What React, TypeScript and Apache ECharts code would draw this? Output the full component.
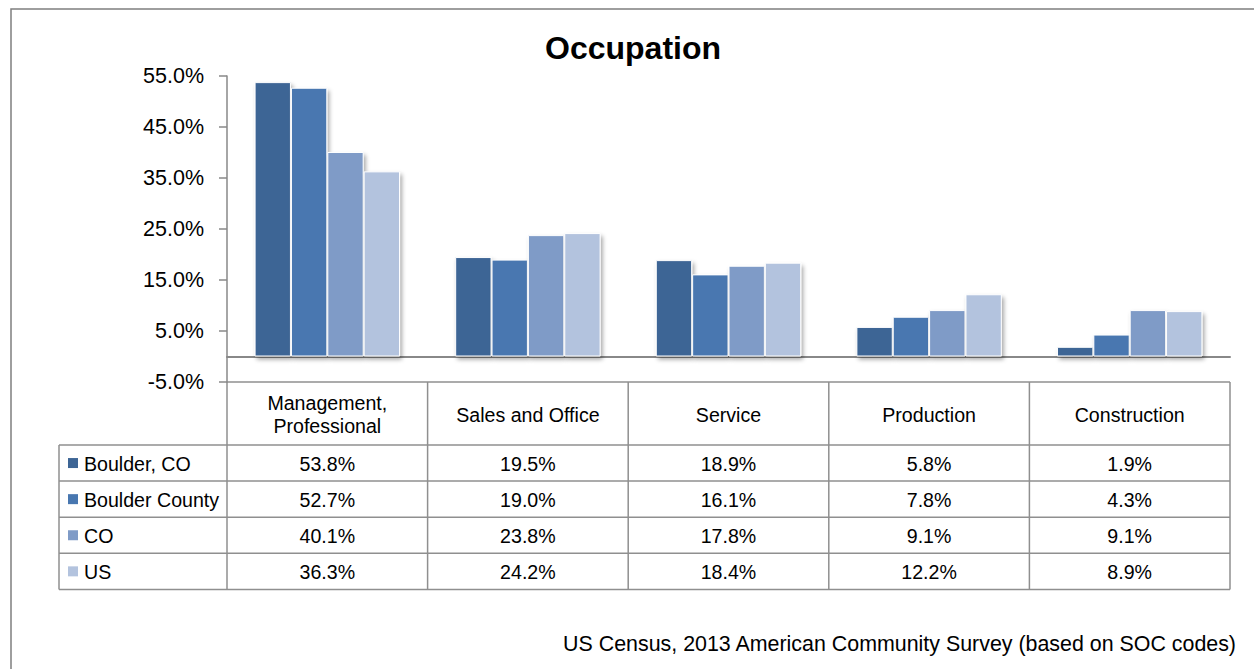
import React, { useEffect, useRef } from "react";
import * as echarts from "echarts";

const categories = ["Management,\nProfessional", "Sales and Office", "Service", "Production", "Construction"];
const seriesNames = ["Boulder, CO", "Boulder County", "CO", "US"];
const boulderCO = [53.8, 19.5, 18.9, 5.8, 1.9];
const boulderCounty = [52.7, 19.0, 16.1, 7.8, 4.3];
const colorado = [40.1, 23.8, 17.8, 9.1, 9.1];
const unitedStates = [36.3, 24.2, 18.4, 12.2, 8.9];
const yTickValues = [-5, 5, 15, 25, 35, 45, 55];
const titleText = "Occupation";
const footerText = "US Census, 2013 American Community Survey (based on SOC codes)";

const seriesValues = [boulderCO, boulderCounty, colorado, unitedStates];
const colors = ["#3d6595", "#4877b0", "#7f9bc7", "#b3c3de"];

const W = 1254;
const H = 669;
const GL = 227;
const GR = 1230;
const GT = 76;
const GB = 382;
const LEGEND_L = 59;
const HEADER_B = 445;
const ROW_H = 36.1;
const LINE = "#8f8f8f";
const FONT = "'Liberation Sans', Arial, sans-serif";

export default function App() {
  const ref = useRef<HTMLDivElement>(null);

  useEffect(() => {
    document.body.style.margin = "0";
    document.body.style.overflow = "hidden";
    const chart = echarts.init(ref.current!, null, { renderer: "svg" });

    const colW = (GR - GL) / categories.length;
    const graphics: any[] = [];

    // outer border
    graphics.push({
      type: "rect",
      shape: { x: 11, y: 9, width: 1400, height: 800 },
      style: { fill: "none", stroke: "#7f7f7f", lineWidth: 1.5 },
      silent: true,
    });
    // title
    graphics.push({
      type: "text",
      x: 633,
      y: 48,
      style: {
        text: titleText,
        font: `bold 32px ${FONT}`,
        fill: "#000",
        align: "center",
        verticalAlign: "middle",
      },
    });
    // footer
    graphics.push({
      type: "text",
      x: 1236,
      y: 644,
      style: {
        text: footerText,
        font: `21.4px ${FONT}`,
        fill: "#000",
        align: "right",
        verticalAlign: "middle",
      },
    });

    const tableBottom = HEADER_B + ROW_H * seriesNames.length;
    // horizontal table lines
    graphics.push({
      type: "line",
      shape: { x1: GL, y1: GB, x2: GR, y2: GB },
      style: { stroke: LINE, lineWidth: 1.5 },
    });
    for (let r = 0; r <= seriesNames.length; r++) {
      const y = HEADER_B + r * ROW_H;
      graphics.push({
        type: "line",
        shape: { x1: LEGEND_L, y1: y, x2: GR, y2: y },
        style: { stroke: LINE, lineWidth: 1.5 },
      });
    }
    // vertical table lines
    graphics.push({
      type: "line",
      shape: { x1: LEGEND_L, y1: HEADER_B, x2: LEGEND_L, y2: tableBottom },
      style: { stroke: LINE, lineWidth: 1.5 },
    });
    for (let c = 0; c <= categories.length; c++) {
      const x = GL + c * colW;
      graphics.push({
        type: "line",
        shape: { x1: x, y1: GB, x2: x, y2: tableBottom },
        style: { stroke: LINE, lineWidth: 1.5 },
      });
    }
    // header texts
    categories.forEach((cat, c) => {
      graphics.push({
        type: "text",
        x: GL + (c + 0.5) * colW,
        y: (GB + HEADER_B) / 2 + 1,
        style: {
          text: cat,
          font: `19.6px ${FONT}`,
          lineHeight: 23,
          fill: "#000",
          align: "center",
          verticalAlign: "middle",
        },
      });
    });
    // rows
    seriesNames.forEach((name, r) => {
      const cy = HEADER_B + (r + 0.5) * ROW_H;
      graphics.push({
        type: "rect",
        shape: { x: 68, y: cy - 5, width: 10, height: 10 },
        style: { fill: colors[r] },
      });
      graphics.push({
        type: "text",
        x: 84,
        y: cy + 1,
        style: {
          text: name,
          font: `19.6px ${FONT}`,
          fill: "#000",
          align: "left",
          verticalAlign: "middle",
        },
      });
      seriesValues[r].forEach((v, c) => {
        graphics.push({
          type: "text",
          x: GL + (c + 0.5) * colW,
          y: cy + 1,
          style: {
            text: v.toFixed(1) + "%",
            font: `19.6px ${FONT}`,
            fill: "#000",
            align: "center",
            verticalAlign: "middle",
          },
        });
      });
    });

    chart.setOption({
      animation: false,
      backgroundColor: "#fff",
      grid: { left: GL, right: W - GR, top: GT, bottom: H - GB, containLabel: false },
      xAxis: {
        type: "category",
        data: categories,
        axisLabel: { show: false },
        axisTick: { show: false },
        axisLine: { show: true, onZero: true, lineStyle: { color: "#888", width: 2 } },
      },
      yAxis: {
        type: "value",
        min: -5,
        max: 55,
        interval: 5,
        splitLine: { show: false },
        axisLine: { show: true, lineStyle: { color: "#888", width: 1.5 } },
        axisTick: { show: true, length: 8, customValues: yTickValues, lineStyle: { color: "#888", width: 1.5 } },
        axisLabel: {
          customValues: yTickValues,
          formatter: (v: number) => v.toFixed(1) + "%",
          fontFamily: FONT,
          fontSize: 21.5,
          color: "#000",
          margin: 23,
        },
      },
      series: seriesNames.map((name, i) => ({
        name,
        type: "bar",
        data: seriesValues[i],
        barGap: "0%",
        barCategoryGap: "27.5%",
        itemStyle: {
          color: colors[i],
          borderColor: "#fff",
          borderWidth: 1,
          shadowBlur: 4,
          shadowColor: "rgba(0,0,0,0.35)",
          shadowOffsetX: 2,
          shadowOffsetY: 3,
        },
      })),
      graphic: { elements: graphics },
    });

    return () => chart.dispose();
  }, []);

  return <div ref={ref} style={{ width: W, height: H }} />;
}
